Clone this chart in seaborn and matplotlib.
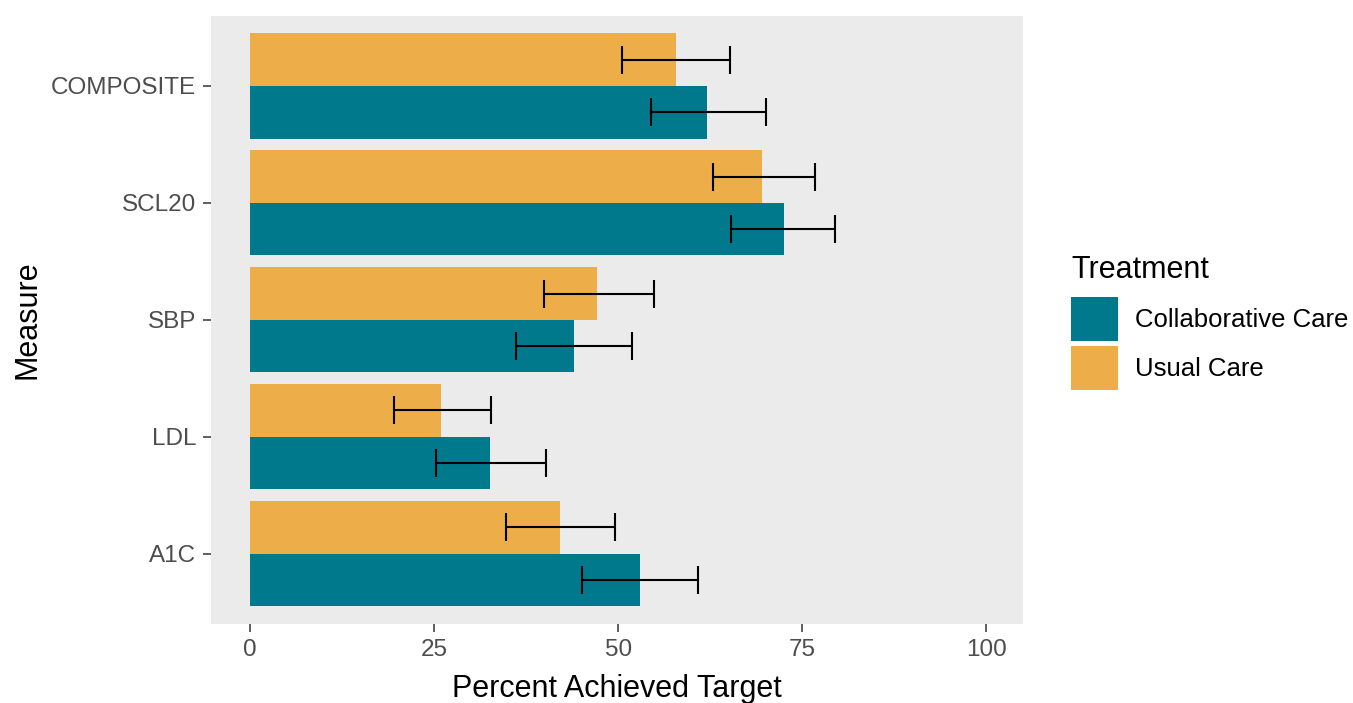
import matplotlib
matplotlib.use("Agg")
import matplotlib.pyplot as plt
from matplotlib.patches import Patch
import numpy as np
import pandas as pd
import seaborn as sns

# Share of patients reaching each target, by treatment arm (with 95% CI bounds)
measures = ["COMPOSITE", "SCL20", "SBP", "LDL", "A1C"]
collab_pct = [62.1, 72.5, 44.0, 32.6, 53.0]
collab_lo = [54.5, 65.4, 36.1, 25.3, 45.1]
collab_hi = [70.1, 79.5, 51.9, 40.2, 60.9]
usual_pct = [57.8, 69.6, 47.1, 26.0, 42.1]
usual_lo = [50.5, 62.9, 39.9, 19.6, 34.8]
usual_hi = [65.2, 76.7, 54.9, 32.7, 49.6]
treatments = ["Collaborative Care", "Usual Care"]
x_ticks = [0, 25, 50, 75, 100]

colors = {"Collaborative Care": "#00798C", "Usual Care": "#EDAE49"}

df = pd.DataFrame({
    "Measure": measures * 2,
    "Percent": collab_pct + usual_pct,
    "lo": collab_lo + usual_lo,
    "hi": collab_hi + usual_hi,
    "Treatment": [treatments[0]] * len(measures) + [treatments[1]] * len(measures),
})

sns.set_theme(style="white")
plt.rcParams["font.family"] = ["Liberation Sans", "DejaVu Sans"]
plt.rcParams["text.color"] = "black"

fig = plt.figure(figsize=(13.53, 7.03), dpi=100)
ax = fig.add_axes([0.1562, 0.1124, 0.7561 - 0.1562, 0.9777 - 0.1124])
ax.set_facecolor("#EBEBEB")

hue_order = ["Usual Care", "Collaborative Care"]
width = 0.9
sns.barplot(data=df, y="Measure", x="Percent", hue="Treatment",
            order=measures, hue_order=hue_order, palette=colors,
            width=width, dodge=True, errorbar=None, saturation=1,
            linewidth=0, legend=False, ax=ax)

# error bars centred on each dodged bar
each = width / len(hue_order)
for j, t in enumerate(hue_order):
    sub = df[df["Treatment"] == t].set_index("Measure").loc[measures]
    offset = -width / 2 + each / 2 + j * each
    ypos = np.arange(len(measures)) + offset
    xerr = np.vstack([sub["Percent"] - sub["lo"], sub["hi"] - sub["Percent"]])
    ax.errorbar(sub["Percent"], ypos, xerr=xerr, fmt="none", ecolor="black",
                elinewidth=1.5, capsize=10.4, capthick=1.5, zorder=5)

ax.set_xlim(-5.25, 105)
ax.set_ylim(len(measures) - 0.4, -0.6)
ax.set_xticks(x_ticks)
ax.set_xticklabels([str(v) for v in x_ticks])
ax.grid(False)
for s in ax.spines.values():
    s.set_visible(False)

ax.tick_params(axis="both", which="both", direction="out", length=6,
               width=1.1, color="#333333", labelcolor="#4D4D4D",
               labelsize=17.5, left=True, bottom=True)
ax.tick_params(axis="y", pad=5)
ax.tick_params(axis="x", pad=5)

ax.set_xlabel("Percent Achieved Target", fontsize=22, color="black", labelpad=9)
ax.set_ylabel("Measure", fontsize=22, color="black", labelpad=6)

handles = [Patch(facecolor=colors[t], edgecolor="none") for t in treatments]
leg = fig.legend(handles, treatments, title="Treatment",
                 loc="upper left", bbox_to_anchor=(1071 / 1353, 1 - 255 / 703),
                 frameon=False, fontsize=18.5, title_fontsize=22,
                 handlelength=1.81, handleheight=2.26, handletextpad=0.7,
                 labelspacing=0.2, borderpad=0, borderaxespad=0,
                 alignment="left", labelcolor="black")
# extra room between the legend title and its keys
leg._legend_box.sep += 5

fig.savefig("out.png", dpi=100)
